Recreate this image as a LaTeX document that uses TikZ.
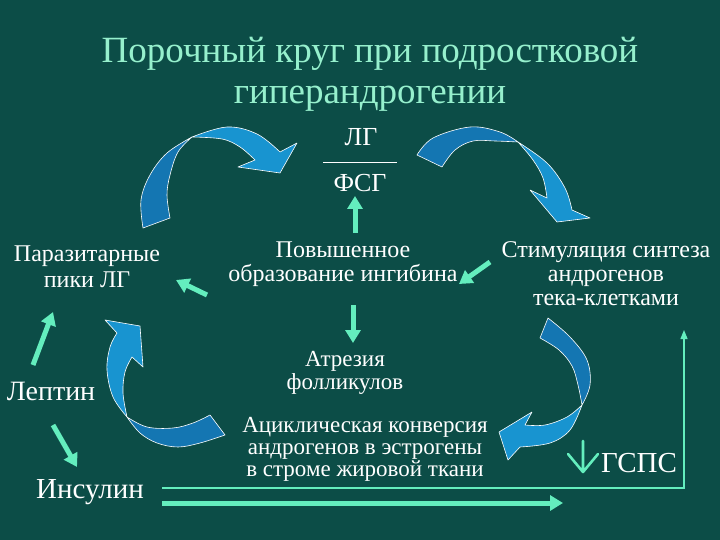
\documentclass[tikz,border=0pt]{standalone}
\usepackage{fontspec}
\setmainfont{Liberation Serif}
\newfontfamily\tnr{Liberation Serif}
\usetikzlibrary{arrows.meta}
\definecolor{bg}{RGB}{12,77,71}
\definecolor{titlec}{RGB}{150,240,205}
\definecolor{grn}{RGB}{100,238,190}
\definecolor{blueA}{RGB}{24,148,208}
\definecolor{blueB}{RGB}{20,118,178}
\begin{document}
\begin{tikzpicture}[x=1pt,y=-1pt,
  txt/.style={text=white, align=center, inner sep=0pt, anchor=base, font=\tnr\fontsize{24}{24}\selectfont},
  ttl/.style={text=titlec, align=center, inner sep=0pt, anchor=base, font=\tnr\fontsize{37}{41}\selectfont},
  garrow/.style={draw=grn, line width=5pt, -{Triangle[width=15pt,length=13pt]}},
  thinarrow/.style={draw=grn, line width=1.3pt, -{Triangle[width=7pt,length=9pt]}},
  bandB/.style={fill=blueB, draw=white, line width=0.6pt, line join=round},
  bandA/.style={fill=blueA, draw=white, line width=0.6pt, line join=round}
]
\fill[bg] (0,0) rectangle (720,540);
\useasboundingbox (0,0) rectangle (720,540);

% title (base = last line)
\node[ttl] (title) at (370,104) {Порочный круг при подростковой\\гиперандрогении};

% texts
\node[txt, font=\tnr\fontsize{26}{26}\selectfont] (lg) at (361,146) {ЛГ};
\node[txt, font=\tnr\fontsize{26}{26}\selectfont] (fsg) at (360,192) {ФСГ};
\coordinate (barL) at (323,162);
\coordinate (barR) at (397,162);
\draw[white, line width=0.8pt] (barL) -- (barR);

\node[txt] (inhib) at (343,281) {Повышенное\\образование ингибина};
\node[txt, font=\tnr\fontsize{24}{25}\selectfont] (peaks) at (87,287) {Паразитарные\\пики ЛГ};
\node[txt] (stim) at (606,305) {Стимуляция синтеза\\андрогенов\\тека-клетками};
\node[txt, font=\tnr\fontsize{23}{23}\selectfont] (atr) at (345,389) {Атрезия\\фолликулов};
\node[txt, font=\tnr\fontsize{23}{22}\selectfont] (acyc) at (365,476) {Ациклическая конверсия\\андрогенов в эстрогены\\в строме жировой ткани};
\node[txt, font=\tnr\fontsize{28}{28}\selectfont] (lept) at (51,400) {Лептин};
\node[txt, font=\tnr\fontsize{29}{29}\selectfont] (ins) at (90,498) {Инсулин};
\node[txt, font=\tnr\fontsize{29}{29}\selectfont] (gsps) at (639,472) {ГСПС};

% green arrows
\coordinate (a1s) at (355,233); \coordinate (a1e) at (355,196);
\draw[garrow] (a1s) -- (a1e);
\coordinate (a2s) at (353,305); \coordinate (a2e) at (353,343);
\draw[garrow] (a2s) -- (a2e);
\coordinate (a3s) at (207,295); \coordinate (a3e) at (176,280);
\draw[garrow] (a3s) -- (a3e);
\coordinate (a4s) at (490,262); \coordinate (a4e) at (459,284);
\draw[garrow] (a4s) -- (a4e);
\coordinate (a5s) at (33,365); \coordinate (a5e) at (53,312);
\draw[garrow] (a5s) -- (a5e);
\coordinate (a6s) at (53,425); \coordinate (a6e) at (77,467);
\draw[garrow] (a6s) -- (a6e);
\coordinate (a7s) at (162,503); \coordinate (a7e) at (563,503);
\draw[garrow] (a7s) -- (a7e);
\coordinate (t1) at (162,488); \coordinate (t2) at (684,488); \coordinate (t3) at (684,330);
\draw[thinarrow] (t1) -- (t2) -- (t3);
% down arrow before GSPS
\coordinate (d1) at (583,441); \coordinate (d2) at (583,472);
\coordinate (dl) at (568,454); \coordinate (dr) at (598,454);
\draw[grn, line width=2.6pt, line cap=round, line join=round] (d1) -- (d2) (dl) -- (d2) -- (dr);

% blue curved arrow 1 (top-left)
\path[bandB] (143,228) -- plot[smooth, tension=0.6] coordinates {(143,228) (141,200) (150,175) (167,153) (192,137)}
  -- plot[smooth, tension=0.6] coordinates {(192,137) (178,152) (170,175) (167,195) (170,218)} -- cycle;
\path[bandA] (192,137) -- plot[smooth, tension=0.6] coordinates {(192,137) (227,127) (257,134) (280,152)}
  -- (297,143) -- (280,173) -- (238,167) -- (255,160)
  -- plot[smooth, tension=0.6] coordinates {(255,160) (240,147) (222,139) (192,137)} -- cycle;

% blue curved arrow 2 (top-right)
\path[bandB] (417,155) -- plot[smooth, tension=0.6] coordinates {(417,155) (433,138) (470,127) (500,132) (518,142)}
  -- plot[smooth, tension=0.6] coordinates {(518,142) (495,141) (473,141) (455,150) (442,167)} -- cycle;
\path[bandA] (518,142) -- plot[smooth, tension=0.6] coordinates {(518,142) (547,163) (565,188) (572,210)}
  -- (590,218) -- (557,222) -- (530,190) -- (547,198)
  -- plot[smooth, tension=0.6] coordinates {(547,198) (543,178) (533,160) (518,142)} -- cycle;

% blue curved arrow 3 (right)
\path[bandB] (548,318) -- plot[smooth, tension=0.6] coordinates {(548,318) (570,337) (587,360) (590,385) (582,405)}
  -- plot[smooth, tension=0.6] coordinates {(582,405) (578,385) (572,366) (559,350) (540,338)} -- cycle;
\path[bandA] (582,405) -- plot[smooth, tension=0.6] coordinates {(582,405) (567,417) (545,425) (525,425)}
  -- (532,412) -- (499,432) -- (508,460) -- (520,447)
  -- plot[smooth, tension=0.6] coordinates {(520,447) (550,443) (570,430) (582,405)} -- cycle;

% blue curved arrow 4 (bottom-left)
\path[bandB] (225,435) -- plot[smooth, tension=0.6] coordinates {(225,435) (200,443) (178,447) (157,443) (140,433) (127,417)}
  -- plot[smooth, tension=0.6] coordinates {(127,417) (147,427) (173,428) (193,423) (210,415)} -- cycle;
\path[bandA] (127,417) -- plot[smooth, tension=0.6] coordinates {(127,417) (113,397) (107,370) (110,347) (117,333)}
  -- (105,320) -- (140,326) -- (143,367) -- (132,357)
  -- plot[smooth, tension=0.6] coordinates {(132,357) (125,372) (123,393) (127,417)} -- cycle;
\end{tikzpicture}
\end{document}
